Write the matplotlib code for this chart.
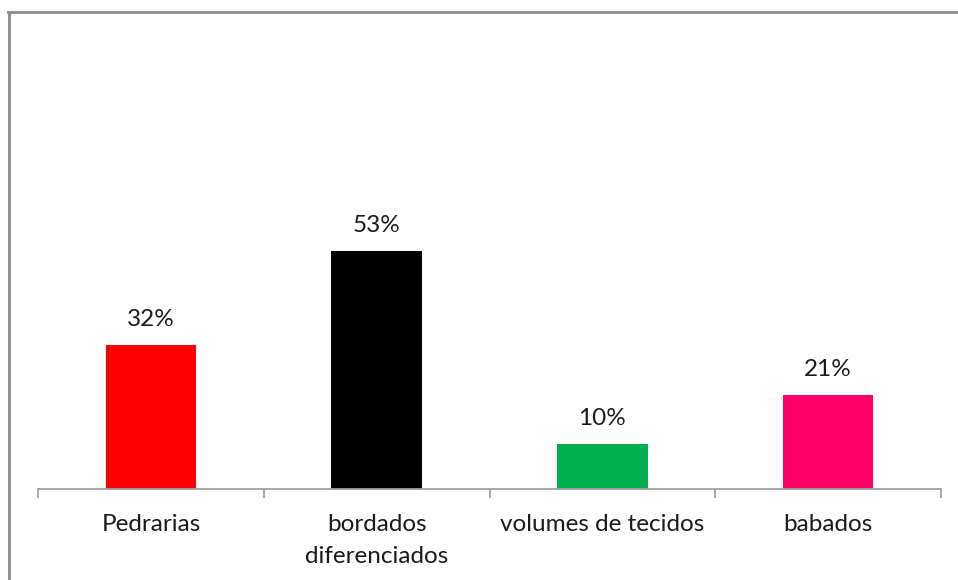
import matplotlib
matplotlib.use("Agg")
import matplotlib.pyplot as plt
from matplotlib.lines import Line2D

categorias = ["Pedrarias", "bordados\ndiferenciados", "volumes de tecidos", "babados"]
valores = [0.32, 0.53, 0.10, 0.21]
cores = ["#FF0000", "#000000", "#00B050", "#FF0066"]

plt.rcParams['font.family'] = ['Lato', 'DejaVu Sans']

W, H = 958, 580
fig = plt.figure(figsize=(W / 100, H / 100), dpi=100)
# area do grafico: eixo base em y=489 px, de x=38 a x=941 px
ax = fig.add_axes([38 / W, 1 - 489 / H, (941 - 38) / W, 449 / H])

x = list(range(len(categorias)))
ax.bar(x, valores, width=0.4, color=cores)
for xi, v in zip(x, valores):
    ax.annotate("%d%%" % round(v * 100), (xi, v), xytext=(0, 18.5), textcoords="offset points",
                ha="center", va="center", fontsize=17.5, color="#1A1A1A")

ax.set_xlim(-0.5, len(categorias) - 0.5)
ax.set_ylim(0, 1)
for s in ["top", "right", "left"]:
    ax.spines[s].set_visible(False)
ax.spines["bottom"].set_color("#A0A0A0")
ax.spines["bottom"].set_linewidth(1.3)
ax.set_yticks([])

# ticks nas divisoes, rotulos no centro das categorias
ax.set_xticks([i - 0.5 for i in range(len(categorias) + 1)])
ax.set_xticklabels([])
ax.tick_params(axis="x", which="major", direction="out", length=6.5, width=1.3, color="#A0A0A0")
ax.set_xticks(x, minor=True)
ax.set_xticklabels(categorias, minor=True, fontsize=17.5, color="#1A1A1A", linespacing=1.62)
ax.tick_params(axis="x", which="minor", length=0, pad=18)

# moldura do grafico
cinza = "#8C8C8C"
fig.add_artist(Line2D([9 / W, 9 / W], [0, 1 - 11.5 / H], transform=fig.transFigure, color=cinza, lw=2))
fig.add_artist(Line2D([8 / W, 1], [1 - 11.5 / H, 1 - 11.5 / H], transform=fig.transFigure, color=cinza, lw=2))

fig.savefig("out.png", dpi=100)
